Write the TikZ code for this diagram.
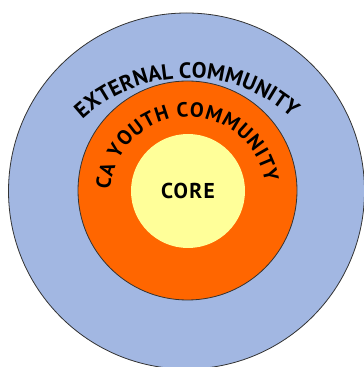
\documentclass[tikz,border=0pt]{standalone}
\usepackage{fontspec}
\setmainfont{PT Sans}
\usetikzlibrary{decorations.text}
\definecolor{outerblue}{RGB}{162,183,226}
\definecolor{ringorange}{RGB}{255,102,0}
\definecolor{coreyellow}{RGB}{255,255,153}
\begin{document}
\begin{tikzpicture}[x=1pt,y=1pt,
  disc/.style={circle, inner sep=0pt, draw=black!80, line width=0.8pt},
  arctext/.style 2 args={decorate, decoration={text along path, text align={#1}, text={#2}}}]
\useasboundingbox (0,0) rectangle (364,367);
\clip (0,0) rectangle (364,367);
\fill[white] (0,0) rectangle (364,367);
% three nested community rings
\node[disc, minimum size=356pt, fill=outerblue] (external) at (186.5,176) {};
\node[disc, minimum size=219pt, fill=ringorange] (youth) at (187.5,176.5) {};
\node[circle, inner sep=0pt, minimum size=114pt, fill=coreyellow] (core) at (188,176) {};
\node[font=\bfseries\fontsize{21.5}{25}\selectfont\addfontfeature{LetterSpace=6}] (corelabel) at (core.center) {CORE};
% curved ring labels
\begin{scope}
  \bfseries\fontsize{22}{26}\selectfont
  \path[arctext={center}{EXTERNAL COMMUNITY}]
    ([shift={(141:155)}]188,134) arc[start angle=141, end angle=40, radius=155];
\end{scope}
\begin{scope}
  \bfseries\fontsize{20.5}{24}\selectfont
  \path[arctext={fit to path}{CA YOUTH COMMUNITY}]
    ([shift={(176:78)}]188,172) arc[start angle=176, end angle=9, radius=78];
\end{scope}
\end{tikzpicture}
\end{document}
